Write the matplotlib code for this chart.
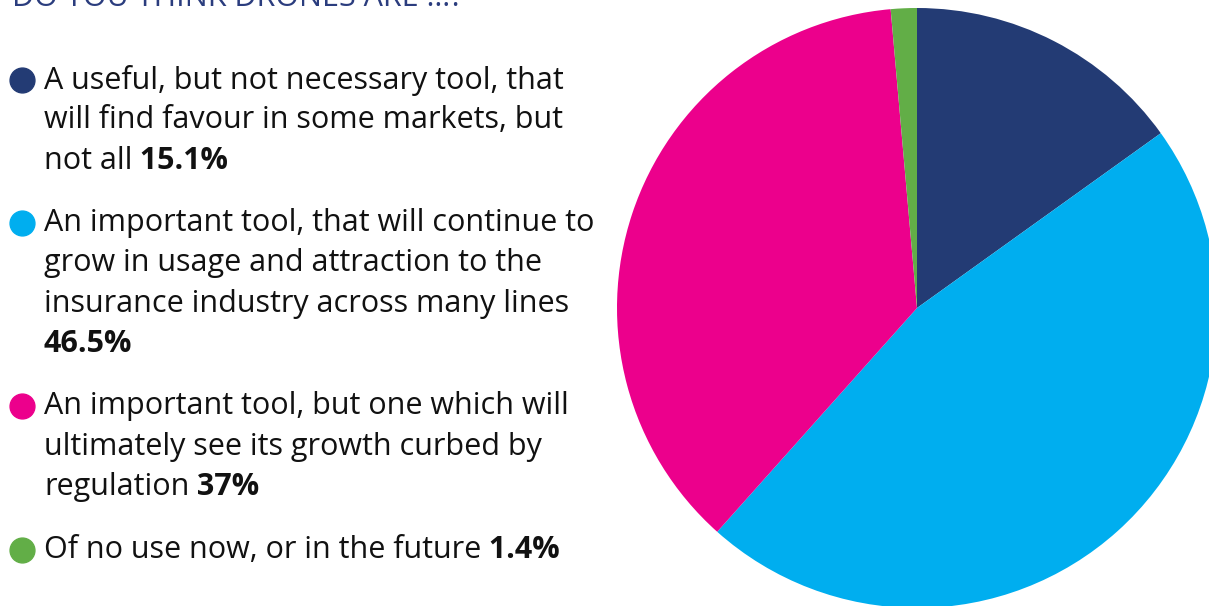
import matplotlib
matplotlib.use('Agg')
import matplotlib.pyplot as plt

# Respuestas a la encuesta
labels = [
    ['A useful, but not necessary tool, that', 'will find favour in some markets, but', 'not all'],
    ['An important tool, that will continue to', 'grow in usage and attraction to the',
     'insurance industry across many lines', ''],
    ['An important tool, but one which will', 'ultimately see its growth curbed by', 'regulation'],
    ['Of no use now, or in the future'],
]
values = [15.1, 46.5, 37, 1.4]
value_text = ['15.1%', '46.5%', '37%', '1.4%']
colors = ['#233B74', '#00AEEF', '#EC008C', '#62AE47']
title = 'DO YOU THINK DRONES ARE …?'

plt.rcParams['font.family'] = ['Open Sans', 'DejaVu Sans']

fig = plt.figure(figsize=(12.09, 6.06), dpi=100)
ax = fig.add_axes([0, 0, 1, 1])

# Gráfico circular, empieza arriba y gira en sentido horario
ax.pie(values, colors=colors, startangle=90, counterclock=False,
       center=(917, 298), radius=300, frame=True,
       wedgeprops={'linewidth': 0})
ax.set_xlim(0, 1209)
ax.set_ylim(0, 606)
ax.set_aspect('equal')
ax.axis('off')

# Título
ax.text(12, 600, title, fontsize=22, color='#2B3D7E', va='baseline', ha='left')

# Leyenda con círculos de color
starts = [80, 223, 406, 550]
step = 40.5
fs = 22
for lines, val, col, y0 in zip(labels, value_text, colors, starts):
    ax.scatter([22], [606 - y0], s=320, color=col, zorder=3, clip_on=False)
    for i, line in enumerate(lines):
        y = 606 - (y0 + i * step)
        last = i == len(lines) - 1
        if line:
            t = ax.text(44, y, line, fontsize=fs, color='#111111', va='center', ha='left')
            if last:
                ax.annotate(' ' + val, xy=(1, 0.5), xycoords=t, fontsize=fs,
                            fontweight='bold', color='#111111', va='center', ha='left')
        else:
            ax.text(44, y, val, fontsize=fs, fontweight='bold', color='#111111',
                    va='center', ha='left')

fig.savefig('out.png', dpi=100)
